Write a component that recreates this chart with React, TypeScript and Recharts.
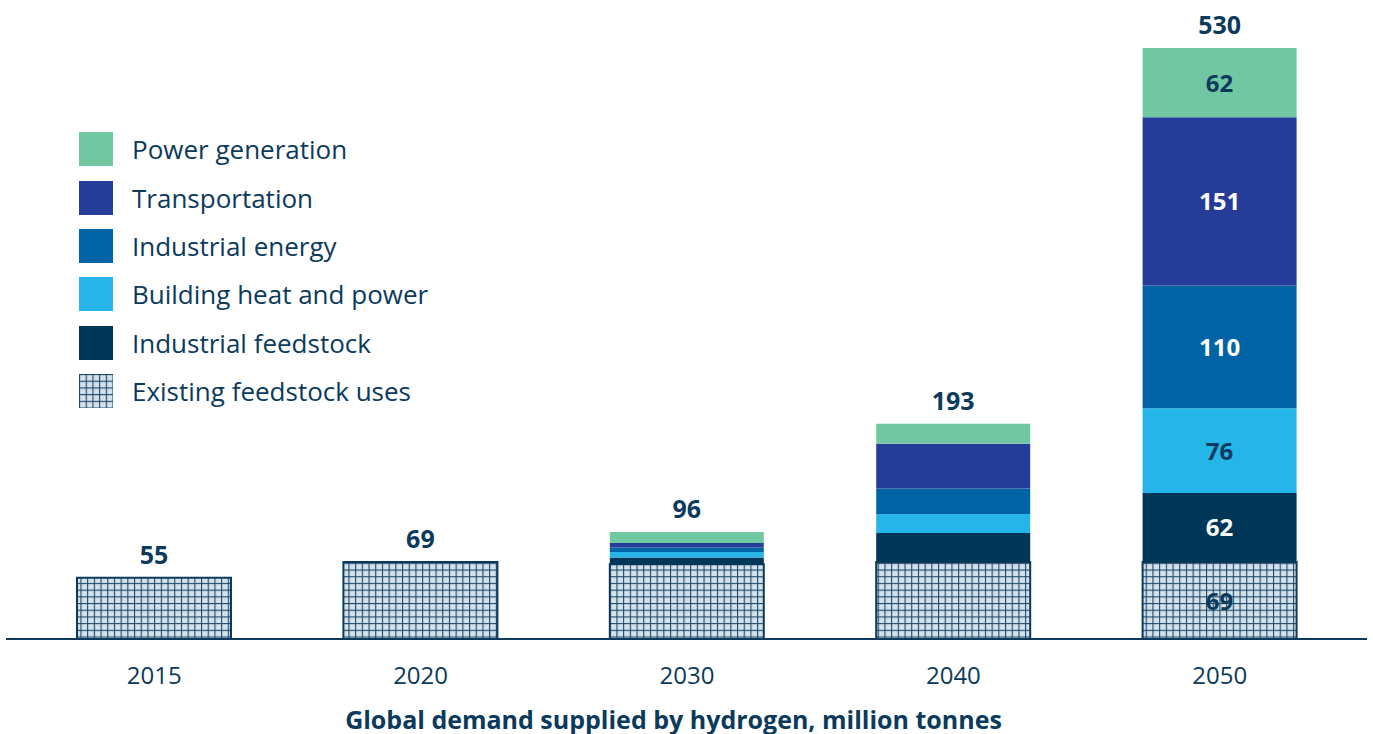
import React from 'react';
import { BarChart, Bar, XAxis, YAxis, LabelList, Legend } from 'recharts';

const years = ['2015', '2020', '2030', '2040', '2050'];
const existingFeedstock = [55, 69, 67, 69, 69];
const industrialFeedstock = [0, 0, 6, 26, 62];
const buildingHeat = [0, 0, 5, 17, 76];
const industrialEnergy = [0, 0, 4, 23, 110];
const transportation = [0, 0, 4, 40, 151];
const powerGeneration = [0, 0, 10, 18, 62];
const totals = [55, 69, 96, 193, 530];

const NAVY = '#0b3a5c';
const FONT = '"Open Sans", "Noto Sans", sans-serif';

const series = [
  { key: 'existing', name: 'Existing feedstock uses', values: existingFeedstock, fill: 'url(#grid)', label: NAVY },
  { key: 'feedstock', name: 'Industrial feedstock', values: industrialFeedstock, fill: '#003758', label: '#ffffff' },
  { key: 'building', name: 'Building heat and power', values: buildingHeat, fill: '#25b5e9', label: NAVY },
  { key: 'energy', name: 'Industrial energy', values: industrialEnergy, fill: '#0063a6', label: '#ffffff' },
  { key: 'transport', name: 'Transportation', values: transportation, fill: '#253c98', label: '#ffffff' },
  { key: 'power', name: 'Power generation', values: powerGeneration, fill: '#72c7a3', label: NAVY },
];

const data = years.map((y, i) => {
  const row: any = { year: y, total: totals[i] };
  series.forEach((s) => (row[s.key] = s.values[i]));
  let top = '';
  series.forEach((s) => {
    if (s.values[i] > 0) top = s.key;
  });
  row.topKey = top;
  return row;
});

const legendItems = [...series].reverse();

const LegendContent = () => (
  <div style={{ fontFamily: FONT }}>
    {legendItems.map((s) => (
      <div key={s.key} style={{ display: 'flex', alignItems: 'center', height: 48.4 }}>
        <svg width={34} height={34} style={{ marginRight: 19 }}>
          <rect x={0} y={0} width={34} height={34} fill={s.fill} />
        </svg>
        <span style={{ fontSize: 26, color: NAVY, lineHeight: '34px' }}>{s.name}</span>
      </div>
    ))}
  </div>
);

const segLabel = (color: string) => (props: any) => {
  const { x, y, width, height, value } = props;
  if (value === null || value === undefined || value === '') return null;
  return (
    <text x={x + width / 2} y={y + height / 2} dy={9} textAnchor="middle" fill={color}
      style={{ fontFamily: FONT, fontSize: 24, fontWeight: 700 }}>
      {value}
    </text>
  );
};

const totalLabel = (props: any) => {
  const { x, y, width, value } = props;
  if (value === null || value === undefined || value === '') return null;
  return (
    <text x={x + width / 2} y={y - 14} textAnchor="middle" fill={NAVY}
      style={{ fontFamily: FONT, fontSize: 25, fontWeight: 700 }}>
      {value}
    </text>
  );
};

const Tick = (props: any) => {
  const { x, y, payload } = props;
  return (
    <text x={x} y={y + 37} textAnchor="middle" fill={NAVY} style={{ fontFamily: FONT, fontSize: 24 }}>
      {payload.value}
    </text>
  );
};

export default function App() {
  return (
    <div style={{ position: 'absolute', left: 0, top: 0, width: 1373, height: 734, background: '#fff' }}>
      <BarChart width={1373} height={734} data={data} margin={{ top: 48, right: 6, left: 6, bottom: 0 }} barCategoryGap={0}>
        <defs>
          <pattern id="grid" patternUnits="userSpaceOnUse" width={6.7} height={6.7}>
            <rect x={0} y={0} width={6.7} height={6.7} fill="#d3e1ea" />
            <line x1={0} y1={0.5} x2={6.7} y2={0.5} stroke="#1e4868" strokeWidth={1.2} />
            <line x1={0.5} y1={0} x2={0.5} y2={6.7} stroke="#1e4868" strokeWidth={1.2} />
          </pattern>
        </defs>
        <XAxis dataKey="year" height={95} axisLine={{ stroke: NAVY, strokeWidth: 2 }} tickLine={false}
          tick={<Tick />} padding={{ left: 15, right: 14 }} interval={0} />
        <YAxis hide domain={[0, 530]} />
        <Legend layout="horizontal" verticalAlign="middle" align="center" content={<LegendContent />}
          wrapperStyle={{ position: 'absolute', left: 79, top: 125, width: 420, height: 300 }} />
        {series.map((s) => (
          <Bar key={s.key} dataKey={s.key} name={s.name} stackId="a" fill={s.fill} barSize={154}
            stroke={s.key === 'existing' ? NAVY : 'none'} strokeWidth={s.key === 'existing' ? 2 : 0}
            isAnimationActive={false}>
            <LabelList dataKey={(d: any) => (d.year === '2050' ? d[s.key] : null)} content={segLabel(s.label)} />
            <LabelList dataKey={(d: any) => (d.topKey === s.key ? d.total : null)} content={totalLabel} />
          </Bar>
        ))}
      </BarChart>
      <div style={{ position: 'absolute', left: 0, width: 1347, top: 702, textAlign: 'center', fontFamily: FONT,
        fontSize: 25, fontWeight: 700, color: NAVY }}>
        Global demand supplied by hydrogen, million tonnes
      </div>
    </div>
  );
}
